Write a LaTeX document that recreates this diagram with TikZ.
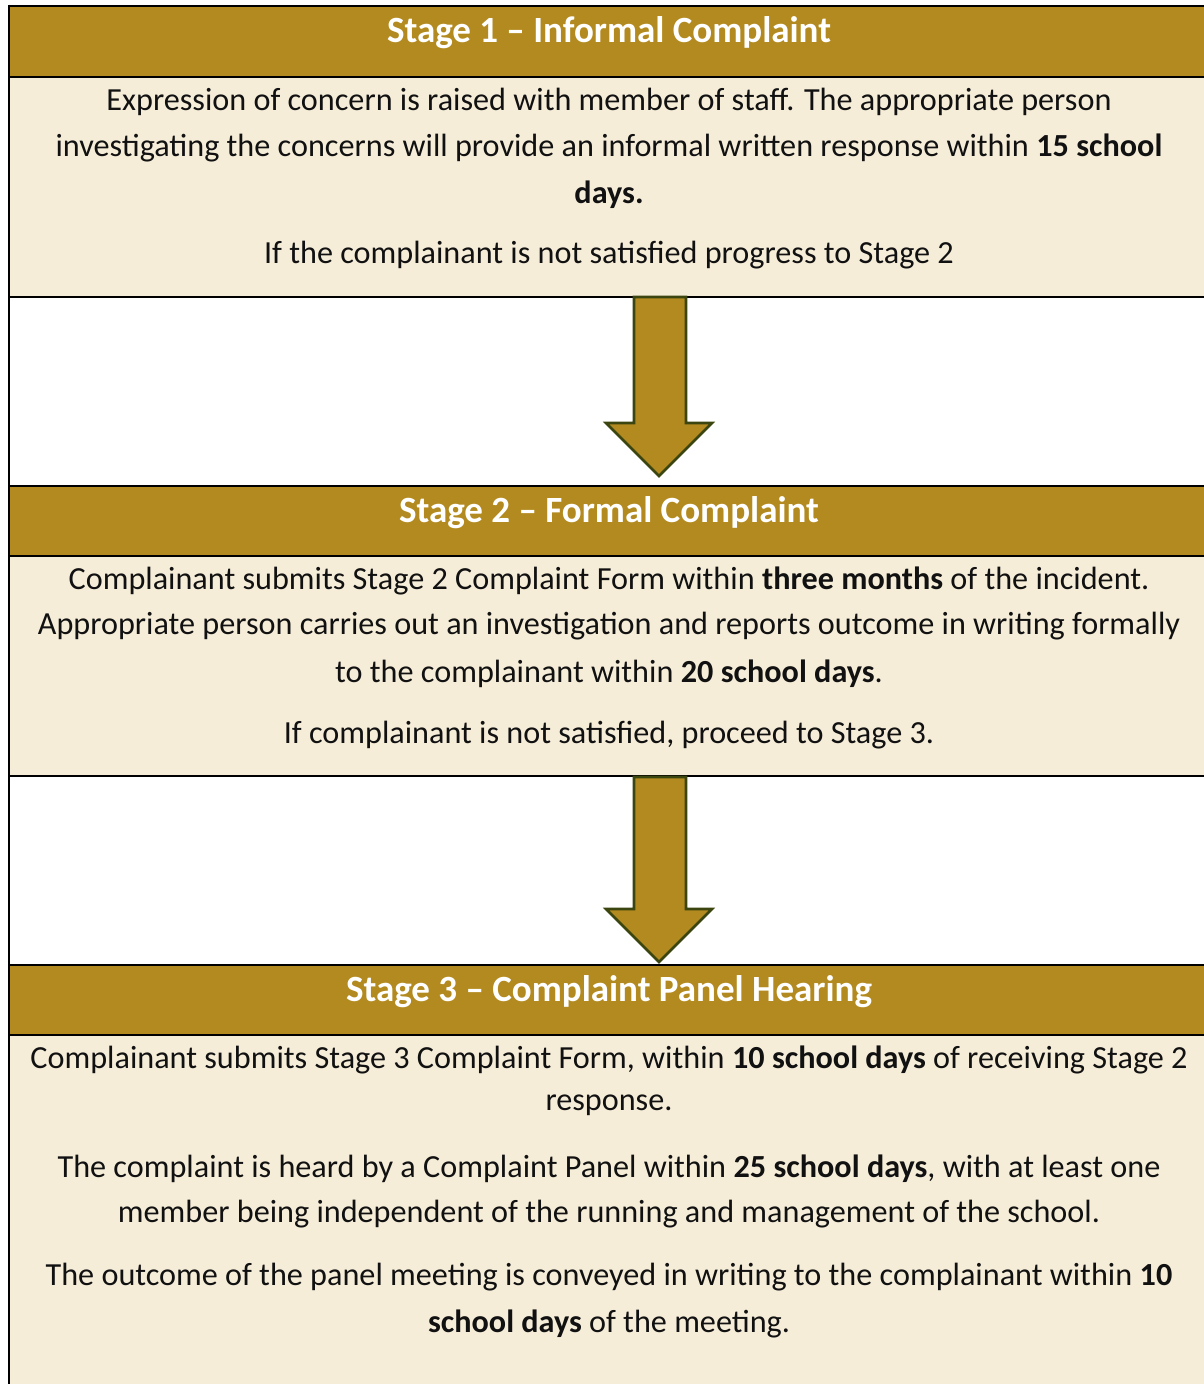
\documentclass[tikz,border=0pt]{standalone}
\usepackage{fontspec}
\setmainfont{Carlito}
\definecolor{hdr}{HTML}{B38A1F}
\definecolor{bodyc}{HTML}{F6EDD9}
\definecolor{arrline}{HTML}{3B4510}
\definecolor{txtc}{HTML}{111111}
\begin{document}
\begin{tikzpicture}[x=1pt,y=-1pt,
  hdrbox/.style={fill=hdr},
  bodybox/.style={fill=bodyc},
  rule/.style={line width=2.6pt,black},
  hdrtxt/.style={font=\fontsize{37}{44}\selectfont\bfseries,text=white,inner sep=0pt,anchor=center,yshift=-1.5pt},
  txt/.style={font=\fontsize{32.2}{38}\selectfont,text=txtc,inner sep=0pt,anchor=center,yshift=-1.5pt},
  bigarrow/.style={fill=hdr,draw=arrline,line width=2.6pt,line join=miter}]
\useasboundingbox (0,0) rectangle (1204,1384);
\fill[white] (0,0) rectangle (1204,1384);
% bands
\fill[hdrbox] (9,6) rectangle (1210,77);
\fill[bodybox] (9,77) rectangle (1210,297);
\fill[hdrbox] (9,486) rectangle (1210,556);
\fill[bodybox] (9,556) rectangle (1210,776);
\fill[hdrbox] (9,965) rectangle (1210,1035);
\fill[bodybox] (9,1035) rectangle (1210,1390);
% rules
\foreach \yy in {6,77,297,486,556,776,965,1035}
  \draw[rule] (9,\yy) -- (1210,\yy);
\draw[rule] (9,4.7) -- (9,1390);
% arrows
\coordinate (a1) at (660,297);
\coordinate (a2) at (660,777);
\draw[bigarrow] ([xshift=-26pt]a1) -- ++(0,126) -- ++(-28,0) -- ++(53,53) -- ++(53,-53) -- ++(-26,0) -- ++(0,-126) -- cycle;
\draw[bigarrow] ([xshift=-26pt]a2) -- ++(0,132) -- ++(-28,0) -- ++(53,53) -- ++(53,-53) -- ++(-26,0) -- ++(0,-132) -- cycle;
% Stage 1
\node[hdrtxt] (h1) at (609,31) {Stage 1 – Informal Complaint};
\node[txt] (t1a) at (609,100) {Expression of concern is raised with member of staff. The appropriate person};
\node[txt] (t1b) at (609,146) {investigating the concerns will provide an informal written response within \textbf{15 school}};
\node[txt] (t1c) at (609,193) {\textbf{days.}};
\node[txt] (t1d) at (609,254) {If the complainant is not satisfied progress to Stage 2};
% Stage 2
\node[hdrtxt] (h2) at (609,511) {Stage 2 – Formal Complaint};
\node[txt] (t2a) at (609,579) {Complainant submits Stage 2 Complaint Form within \textbf{three months} of the incident.};
\node[txt] (t2b) at (609,625) {Appropriate person carries out an investigation and reports outcome in writing formally};
\node[txt] (t2c) at (609,672) {to the complainant within \textbf{20 school days}.};
\node[txt] (t2d) at (609,734) {If complainant is not satisfied, proceed to Stage 3.};
% Stage 3
\node[hdrtxt] (h3) at (609,990) {Stage 3 – Complaint Panel Hearing};
\node[txt] (t3a) at (609,1058) {Complainant submits Stage 3 Complaint Form, within \textbf{10 school days} of receiving Stage 2};
\node[txt] (t3b) at (609,1104) {response.};
\node[txt] (t3c) at (609,1167) {The complaint is heard by a Complaint Panel within \textbf{25 school days}, with at least one};
\node[txt] (t3d) at (609,1213) {member being independent of the running and management of the school.};
\node[txt] (t3e) at (609,1276) {The outcome of the panel meeting is conveyed in writing to the complainant within \textbf{10}};
\node[txt] (t3f) at (609,1322) {\textbf{school days} of the meeting.};
\end{tikzpicture}
\end{document}
